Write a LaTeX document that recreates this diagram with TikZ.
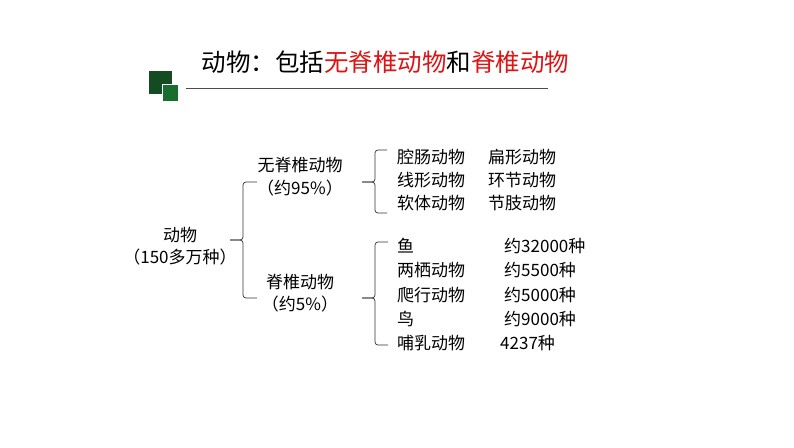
\documentclass[tikz,border=0pt]{standalone}
\usepackage{fontspec}
\setmainfont{Noto Sans CJK SC}
\usetikzlibrary{positioning}
\definecolor{darkgreen}{RGB}{20, 75, 35}
\definecolor{leafgreen}{RGB}{25, 110, 45}
\definecolor{titlered}{RGB}{220, 20, 20}

\begin{document}
\begin{tikzpicture}[
    x=1pt, y=-1pt,
    label/.style={font=\fontsize{17}{19}\selectfont, inner sep=1pt},
    item/.style={label, anchor=west},
    bracket/.style={draw=black!80, line width=0.7pt, rounded corners=3pt}
]
\useasboundingbox (0,0) rectangle (794,447);

% Title
\node[anchor=west, font=\fontsize{24.5}{27}\selectfont] (title) at (198,62)
    {动物：包括\textcolor{titlered}{无脊椎动物}和\textcolor{titlered}{脊椎动物}};
\fill[darkgreen] (149,71) rectangle (172,94);
\fill[leafgreen, draw=white, line width=0.5pt] (162,84) rectangle (178,101);
\coordinate (rulestart) at (186,88);
\coordinate (ruleend) at (548,88);
\draw[black!70, line width=0.8pt] (rulestart) -- (ruleend);

% Root
\node[label] (animal) at (180,235) {动物};
\node[label] (total) at (180,257) {（150多万种）};

% Groups
\node[label] (invert) at (300,165) {无脊椎动物};
\node[label] (invertpct) at (300,188) {（约95\%）};
\node[label] (vert) at (300,282) {脊椎动物};
\node[label] (vertpct) at (300,304) {（约5\%）};

% Brackets
\draw[bracket] (257,182) -- (243,182) -- (243,240) -- (230,240);
\draw[bracket] (230,240) -- (243,240) -- (243,298) -- (257,298);
\draw[bracket] (387,150) -- (375,150) -- (375,182) -- (362,182);
\draw[bracket] (362,182) -- (375,182) -- (375,213) -- (387,213);
\draw[bracket] (388,242) -- (375,242) -- (375,298) -- (362,298);
\draw[bracket] (362,298) -- (375,298) -- (375,345) -- (388,345);

% Invertebrates
\node[item] (coel) at (396,157) {腔肠动物};
\node[item] (flat) at (487,157) {扁形动物};
\node[item] (nema) at (396,180) {线形动物};
\node[item] (anne) at (487,180) {环节动物};
\node[item] (moll) at (396,203) {软体动物};
\node[item] (arth) at (487,203) {节肢动物};

% Vertebrates
\node[item] (fish) at (396,246) {鱼};
\node[item] (fishn) at (503,246) {约32000种};
\node[item] (amph) at (396,270) {两栖动物};
\node[item] (amphn) at (503,270) {约5500种};
\node[item] (rept) at (396,295) {爬行动物};
\node[item] (reptn) at (503,295) {约5000种};
\node[item] (bird) at (396,319) {鸟};
\node[item] (birdn) at (503,319) {约9000种};
\node[item] (mamm) at (396,343) {哺乳动物};
\node[item] (mammn) at (499,343) {4237种};
\end{tikzpicture}
\end{document}
